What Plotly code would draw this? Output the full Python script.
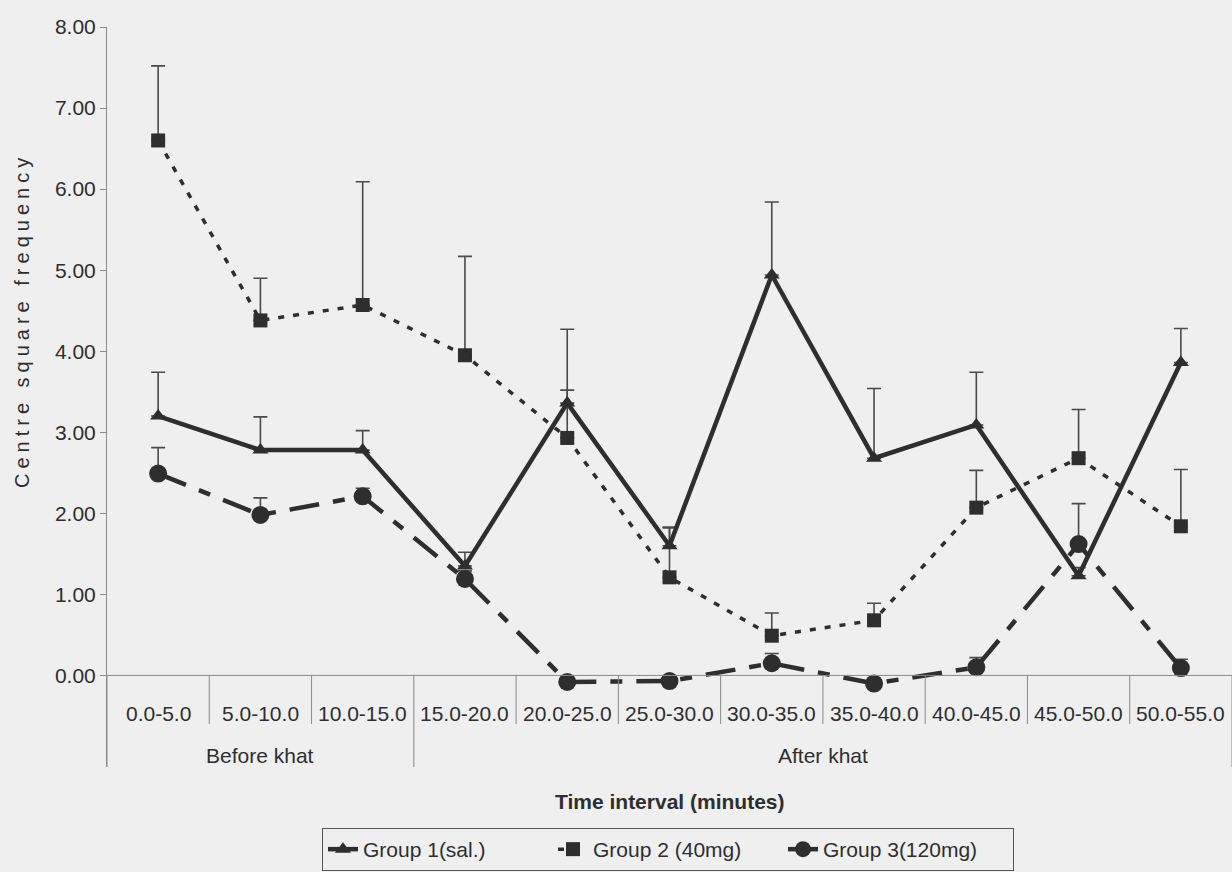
import plotly.graph_objects as go

# Time intervals (minutes)
intervals = ["0.0-5.0", "5.0-10.0", "10.0-15.0", "15.0-20.0", "20.0-25.0", "25.0-30.0",
             "30.0-35.0", "35.0-40.0", "40.0-45.0", "45.0-50.0", "50.0-55.0"]

# Centre square frequency, means and upper error (SEM)
g1_mean = [3.20, 2.78, 2.78, 1.35, 3.36, 1.60, 4.94, 2.68, 3.09, 1.23, 3.86]
g1_err = [0.54, 0.41, 0.24, 0.17, 0.91, 0.22, 0.90, 0.86, 0.65, 0.10, 0.42]

g2_mean = [6.60, 4.38, 4.57, 3.95, 2.93, 1.21, 0.49, 0.68, 2.07, 2.68, 1.84]
g2_err = [0.92, 0.52, 1.52, 1.22, 0.59, 0.62, 0.28, 0.21, 0.46, 0.60, 0.70]

g3_mean = [2.49, 1.98, 2.21, 1.19, -0.08, -0.07, 0.15, -0.10, 0.10, 1.62, 0.09]
g3_err = [0.32, 0.21, 0.10, 0.10, 0.05, 0.05, 0.12, 0.05, 0.12, 0.50, 0.11]

phase_labels = ["Before khat", "After khat"]
phase_spans = [(0, 2), (3, 10)]

y_ticks = [0, 1, 2, 3, 4, 5, 6, 7, 8]

ink = "#2e2e2e"
paper = "#efefef"
font_family = "Liberation Sans, Arial, sans-serif"
fs = 21

W, H = 1232, 872
ML, MR, MT, MB = 107, 0, 27, 105
plot_w, plot_h = W - ML - MR, H - MT - MB

x = list(range(len(intervals)))


def err(vals):
    return dict(type="data", array=vals, arrayminus=[0] * len(vals), symmetric=False,
                color="#4a4a4a", thickness=1.6, width=7)


fig = go.Figure()

fig.add_trace(go.Scatter(
    x=x, y=g2_mean, name="Group 2 (40mg)", mode="lines+markers", legendrank=2,
    line=dict(color=ink, width=3.5, dash="6px,9px"),
    marker=dict(symbol="square", size=14, color=ink),
    error_y=err(g2_err), cliponaxis=False,
))
fig.add_trace(go.Scatter(
    x=x, y=g3_mean, name="Group 3(120mg)", mode="lines+markers", legendrank=3,
    line=dict(color=ink, width=4.5, dash="30px,14px,12px,14px"),
    marker=dict(symbol="circle", size=18, color=ink),
    error_y=err(g3_err), cliponaxis=False,
))
fig.add_trace(go.Scatter(
    x=x, y=g1_mean, name="Group 1(sal.)", mode="lines+markers", legendrank=1,
    line=dict(color=ink, width=4.5),
    marker=dict(symbol="triangle-up", size=14, color=ink),
    error_y=err(g1_err), cliponaxis=False,
))

# Horizontal axis line at zero and the category table below it
shapes = [dict(type="line", xref="x", yref="y", x0=-0.5, x1=10.5, y0=0, y1=0,
               line=dict(color="#8a8a8a", width=1))]
long_dividers = {-0.5, 2.5, 10.5}
for i in range(len(intervals) + 1):
    xd = i - 0.5
    y_end = -1.13 if xd in long_dividers else -0.6
    shapes.append(dict(type="line", xref="x", yref="y", x0=xd, x1=xd, y0=0, y1=y_end,
                       line=dict(color="#8a8a8a", width=1)))

annotations = []
for i, lab in enumerate(intervals):
    annotations.append(dict(x=i, y=-0.47, xref="x", yref="y", text=lab, showarrow=False,
                            font=dict(size=fs, color=ink, family=font_family)))
for lab, (a, b) in zip(phase_labels, phase_spans):
    annotations.append(dict(x=(a + b) / 2, y=-0.99, xref="x", yref="y", text=lab,
                            showarrow=False,
                            font=dict(size=fs, color=ink, family=font_family)))
annotations.append(dict(x=(670 - ML) / plot_w, y=(H - MB - 801) / plot_h,
                        xref="paper", yref="paper",
                        text="<b>Time interval (minutes)</b>", showarrow=False,
                        yanchor="middle",
                        font=dict(size=fs, color=ink, family=font_family)))
annotations.append(dict(x=(22 - ML) / plot_w, y=(H - MB - 321) / plot_h,
                        xref="paper", yref="paper", showarrow=False,
                        text='<span style="letter-spacing:5px">Centre square frequency</span>',
                        textangle=-90, xanchor="center", yanchor="middle",
                        font=dict(size=20, color=ink, family=font_family)))

fig.update_layout(
    width=W, height=H,
    margin=dict(l=ML, r=MR, t=MT, b=MB, autoexpand=False),
    paper_bgcolor=paper, plot_bgcolor=paper,
    font=dict(family=font_family, color=ink),
    shapes=shapes, annotations=annotations,
    legend=dict(
        orientation="h", x=(322 - ML) / plot_w, xanchor="left",
        y=(H - MB - 828) / plot_h, yanchor="top",
        bgcolor=paper, bordercolor="#555555", borderwidth=1,
        font=dict(size=fs, color=ink, family=font_family),
        entrywidth=185, entrywidthmode="pixels", tracegroupgap=0,
    ),
    xaxis=dict(range=[-0.5, 10.5], showticklabels=False, showgrid=False, zeroline=False,
               showline=False, ticks=""),
    yaxis=dict(range=[-1.13, 8.0], tickvals=y_ticks, tickformat=".2f",
               showgrid=False, zeroline=False, showline=True, linecolor="#8a8a8a",
               linewidth=1, ticks="outside", ticklen=6, tickcolor="#8a8a8a",
               tickfont=dict(size=fs, color=ink, family=font_family)),
)

fig.write_html("out.html")
